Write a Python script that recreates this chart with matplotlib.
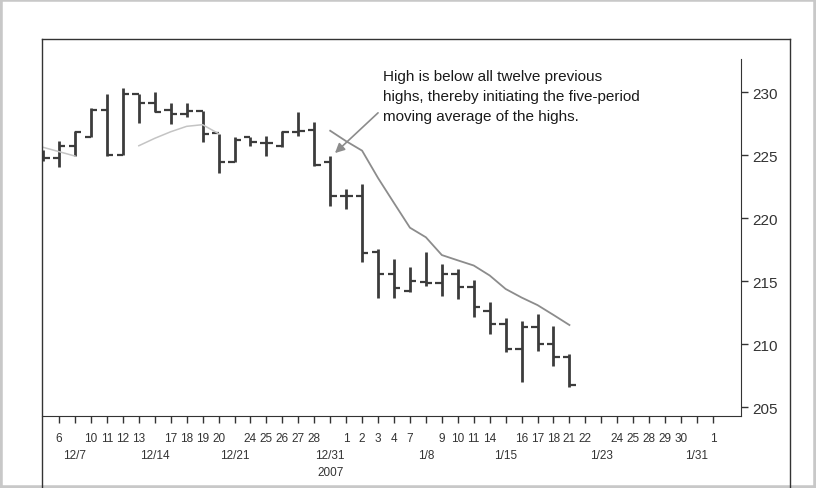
import matplotlib
matplotlib.use('Agg')
import matplotlib.pyplot as plt
from matplotlib.lines import Line2D
from matplotlib.patches import Rectangle

plt.rcParams['font.family'] = ['Liberation Sans', 'DejaVu Sans']

# daily bars (index 0 = 12/6)
bar_idx = list(range(-1, 33))
opens = [225.00, 224.74, 225.74, 226.40, 228.60, 225.00, 229.84, 229.13, 228.60,
         228.26, 228.47, 226.72, 224.47, 226.40, 225.93, 225.74, 226.85, 227.00,
         224.47, 221.78, 221.78, 217.29, 215.55, 214.23, 214.96, 214.88, 215.55,
         214.51, 212.66, 211.60, 209.62, 211.34, 210.02, 208.96]
highs = [225.40, 226.14, 226.93, 228.70, 229.84, 230.30, 229.84, 229.98, 229.13,
         229.13, 228.50, 226.70, 226.40, 226.40, 226.53, 226.93, 228.39, 227.60,
         224.95, 222.30, 222.70, 217.58, 216.76, 216.12, 217.31, 216.36, 215.99,
         215.08, 213.37, 212.05, 211.86, 212.40, 211.47, 209.22]
lows = [224.50, 224.03, 224.90, 226.40, 224.95, 225.00, 227.54, 228.44, 227.46,
        227.99, 226.06, 223.58, 224.42, 225.74, 224.95, 225.61, 226.53, 224.16,
        220.98, 220.72, 216.50, 213.68, 213.70, 214.14, 214.64, 213.85, 213.61,
        212.13, 210.81, 209.36, 207.03, 209.49, 208.30, 206.58]
closes = [224.75, 225.74, 226.85, 228.60, 225.00, 229.84, 229.13, 228.44, 228.26,
          228.47, 226.70, 224.47, 226.20, 226.00, 225.93, 226.85, 226.93, 224.20,
          221.78, 221.78, 217.23, 215.55, 214.45, 215.04, 214.87, 215.55, 214.51,
          212.98, 211.60, 209.62, 211.34, 210.02, 208.96, 206.76]

# moving-average pieces (grey lines)
ma_a_idx = [-1.07, 0, 1]
ma_a = [225.64, 225.27, 224.92]
ma_b_idx = [5, 6, 7, 8, 9, 10]
ma_b = [225.74, 226.33, 226.85, 227.28, 227.41, 226.70]
ma_c_idx = list(range(17, 33))
ma_c = [226.93, 226.10, 225.35, 223.18, 221.20, 219.24, 218.48, 217.07, 216.65,
        216.24, 215.45, 214.38, 213.70, 213.10, 212.32, 211.52]

day_labels = ["6", "", "10", "11", "12", "13", "", "17", "18", "19", "20", "",
              "24", "25", "26", "27", "28", "", "1", "2", "3", "4", "7", "",
              "9", "10", "11", "14", "", "16", "17", "18", "21", "22", "",
              "24", "25", "28", "29", "30", "", "1"]
week_pos = [1, 6, 11, 17, 23, 28, 34, 40]
week_labels = ["12/7", "12/14", "12/21", "12/31\n2007", "1/8", "1/15", "1/23", "1/31"]

note = ("High is below all twelve previous\n"
        "highs, thereby initiating the five-period\n"
        "moving average of the highs.")

bar_color = '#3c3c3c'
fig = plt.figure(figsize=(8.16, 4.89), dpi=100)
ax = fig.add_axes([0.0515, 0.1479, 0.8572, 0.7294])

tw = 0.4
ax.vlines(bar_idx, lows, highs, color=bar_color, lw=2.0)
ax.hlines(opens, [x - tw for x in bar_idx], bar_idx, color=bar_color, lw=1.6)
ax.hlines(closes, bar_idx, [x + tw for x in bar_idx], color=bar_color, lw=1.6)

ax.plot(ma_a_idx, ma_a, color='#c4c4c4', lw=1.1)
ax.plot(ma_b_idx, ma_b, color='#c4c4c4', lw=1.1)
ax.plot(ma_c_idx, ma_c, color='#8c8c8c', lw=1.3)

ax.annotate('', xy=(17.3, 225.16), xytext=(20.0, 228.35),
            arrowprops=dict(arrowstyle='-|>', color='#8c8c8c', lw=1.2,
                            mutation_scale=14, shrinkA=0, shrinkB=0))
ax.text(20.3, 231.85, note, ha='left', va='top', fontsize=11, linespacing=1.55,
        color='#1a1a1a')

ax.set_xlim(-1.07, 42.79)
ax.set_ylim(204.33, 232.62)

ax.spines['left'].set_visible(False)
ax.spines['top'].set_visible(False)
ax.spines['right'].set_color('#333333')
ax.spines['bottom'].set_color('#333333')

ax.yaxis.tick_right()
ax.set_yticks([205, 210, 215, 220, 225, 230])
ax.tick_params(axis='y', direction='out', length=5, width=1, pad=3,
               labelsize=11, colors='#333333')

ax.set_xticks(range(len(day_labels)))
ax.set_xticklabels(day_labels)
ax.tick_params(axis='x', direction='out', length=5, width=1, pad=7,
               labelsize=8.5, colors='#333333')

# second row: week dates under the day numbers
for pos, lab in zip(week_pos, week_labels):
    ax.annotate(lab, xy=(pos, 0), xycoords=('data', 'axes fraction'),
                xytext=(0, -24), textcoords='offset points', ha='center',
                va='top', fontsize=8.5, linespacing=1.5, color='#333333')

# frame around the chart
fig.add_artist(Line2D([42 / 816, 42 / 816], [0, 1 - 40 / 489],
                      transform=fig.transFigure, color='#333333', lw=1))
fig.add_artist(Line2D([42 / 816, 790 / 816], [1 - 40 / 489, 1 - 40 / 489],
                      transform=fig.transFigure, color='#333333', lw=1))
fig.add_artist(Line2D([790 / 816, 790 / 816], [0, 1 - 40 / 489],
                      transform=fig.transFigure, color='#333333', lw=1))
fig.add_artist(Rectangle((0, 0), 1, 1, transform=fig.transFigure, fill=False,
                         ec='#c8c8c8', lw=4))

fig.savefig('out.png', dpi=100)
